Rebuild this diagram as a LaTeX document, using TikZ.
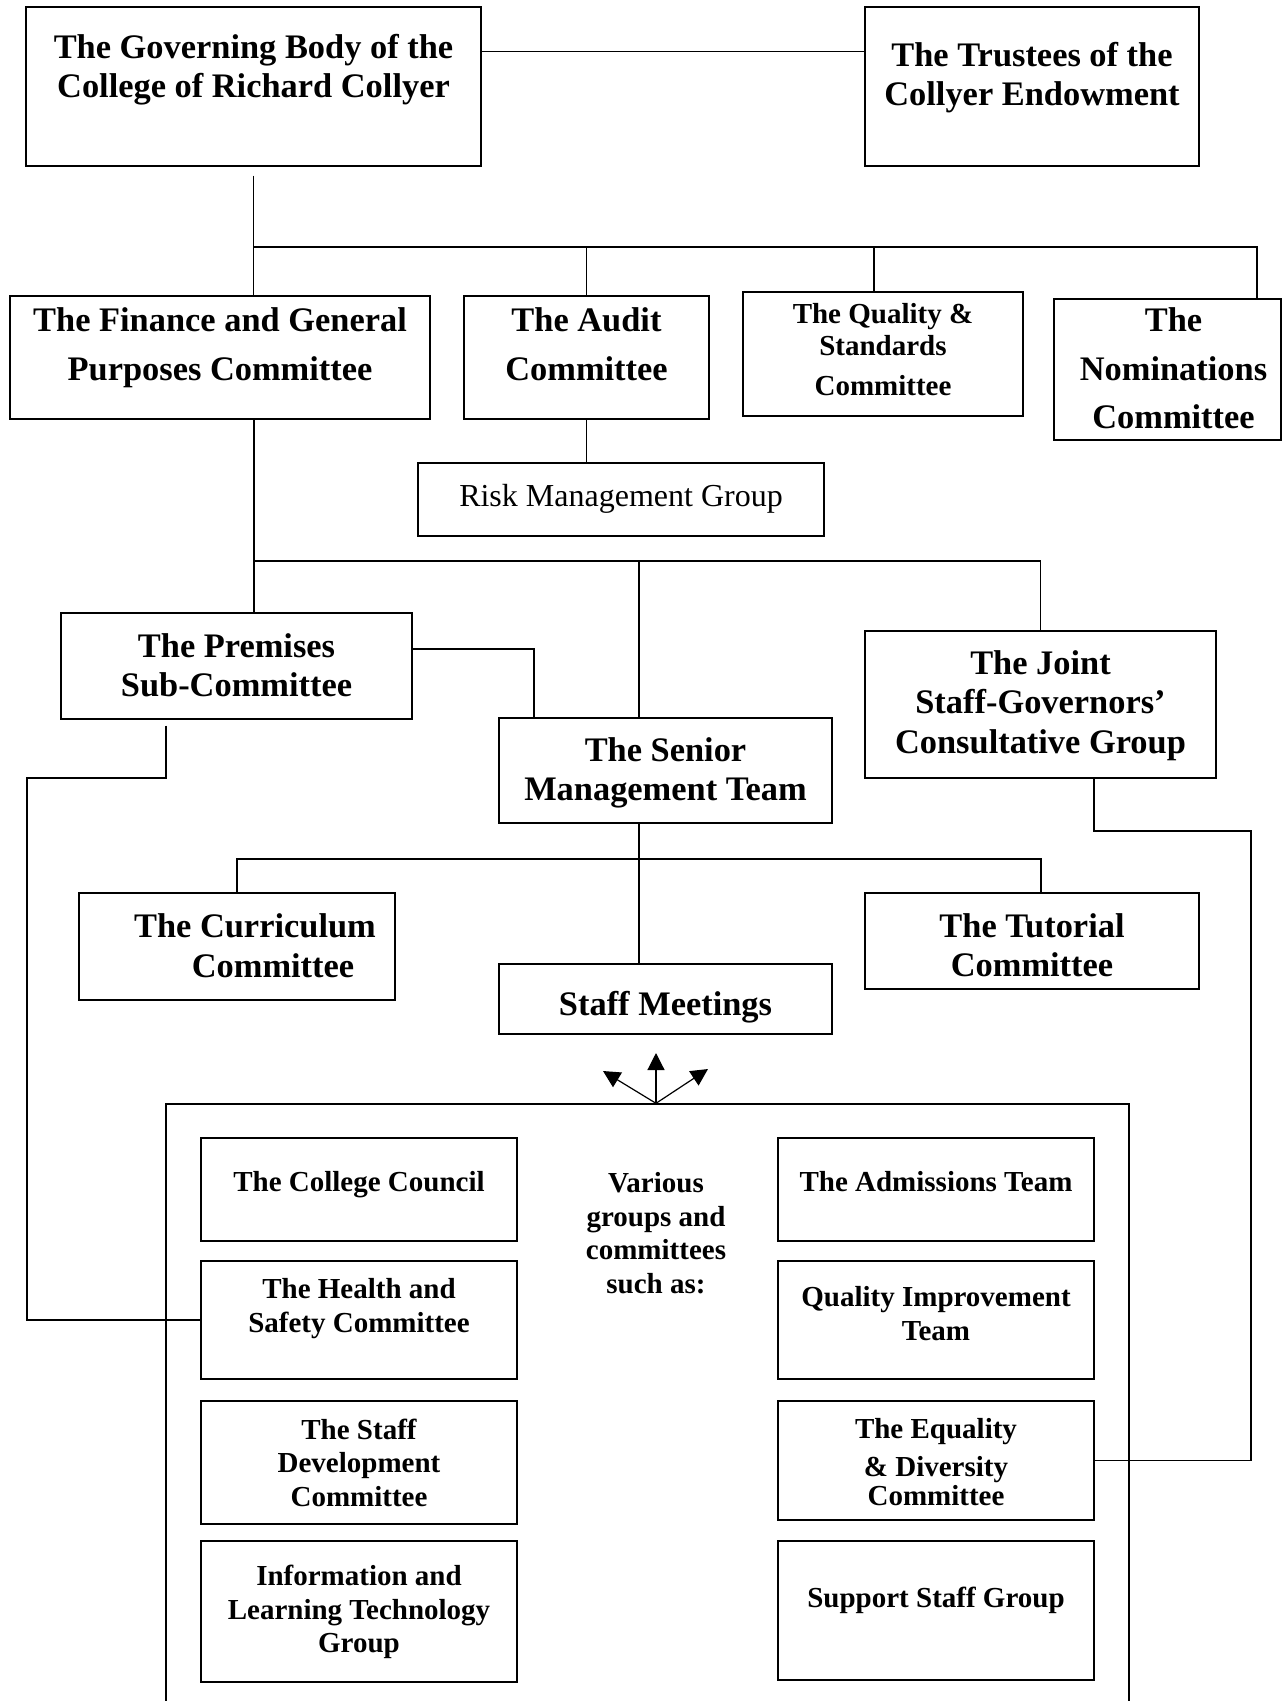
\documentclass[tikz,border=0pt]{standalone}
\usepackage{fontspec}
\setmainfont{Liberation Serif}
\usetikzlibrary{arrows.meta}

% text block lifted inside a box of fixed size
\newcommand{\boxlabel}[2]{\raisebox{\dimexpr#1-2.5pt\relax}[0pt][0pt]{\begin{tabular}{@{}c@{}}#2\end{tabular}}}

\tikzset{
  unit/.style={draw, line width=1.4pt, inner sep=0pt,
               font=\bfseries\fontsize{34.4}{39.6}\selectfont},
  bigrow/.style={font=\bfseries\fontsize{34.4}{48.8}\selectfont},
  smalltext/.style={font=\bfseries\fontsize{29}{33.6}\selectfont},
  boxsize/.style 2 args={minimum width=#1pt, minimum height=#2pt},
  link/.style={line width=1.2pt},
  fanarrow/.style={line width=1.2pt, -{Triangle[length=17pt,width=17pt]}}
}

\begin{document}
\begin{tikzpicture}[x=1pt,y=-1pt]
  \useasboundingbox (0,0) rectangle (1283,1701);
  \fill[white] (0,0) rectangle (1283,1701);
  \clip (0,0) rectangle (1283,1701);

  % governing body and trustees
  \node[unit, boxsize={455}{159}] (gov) at (253.5,86.5)
    {\boxlabel{12.9pt}{The Governing Body of the\\College of Richard Collyer}};
  \node[unit, boxsize={334}{159}] (trustees) at (1032,86.5)
    {\boxlabel{4.9pt}{The Trustees of the\\Collyer Endowment}};

  % committees of the governors
  \node[unit, bigrow, boxsize={420}{123}] (finance) at (220,357.5)
    {\boxlabel{7.9pt}{The Finance and General\\Purposes Committee}};
  \node[unit, bigrow, boxsize={245}{123}] (audit) at (586.5,357.5)
    {\boxlabel{7.9pt}{The Audit\\Committee}};
  \node[unit, smalltext, boxsize={280}{124}] (quality) at (883,354)
    {\boxlabel{-2.2pt}{The Quality \&\\[-2pt]Standards\\[6.4pt]Committee}};
  \node[unit, bigrow, boxsize={227}{141}] (nom) at (1167.5,369.5)
    {\hspace*{12pt}\boxlabel{-4.6pt}{The\\Nominations\\Committee}};
  \node[unit, font=\fontsize{32}{37}\selectfont, boxsize={406}{73}] (risk) at (621,499.5)
    {\boxlabel{-3pt}{Risk Management Group}};

  \node[unit, boxsize={351}{106}] (premises) at (236.5,666)
    {\boxlabel{-6.6pt}{The Premises\\Sub-Committee}};
  \node[unit, boxsize={333}{105}] (smt) at (665.5,770.5)
    {\boxlabel{-6.1pt}{The Senior\\Management Team}};
  \node[unit, boxsize={351}{147}] (joint) at (1040.5,704.5)
    {\boxlabel{-5.1pt}{The Joint\\Staff-Governors'\\Consultative Group}};

  \node[unit, boxsize={316}{107}] (curr) at (237,946.5)
    {\hspace*{36pt}\boxlabel{-6.6pt}{The Curriculum\\\hspace*{36pt}Committee}};
  \node[unit, boxsize={334}{96}] (tut) at (1032,941)
    {\boxlabel{-11.6pt}{The Tutorial\\Committee}};
  \node[unit, boxsize={333}{70}] (staff) at (665.5,999)
    {\boxlabel{-12.6pt}{Staff Meetings}};

  % groups and committees
  \node[unit, boxsize={963}{626}] (groups) at (647.5,1417) {};
  \node[smalltext, inner sep=0pt] (various) at (656,1240)
    {\boxlabel{0pt}{Various\\groups and\\committees\\such as:}};

  \node[unit, smalltext, boxsize={316}{103}] (council) at (359,1189.5)
    {\boxlabel{1.2pt}{The College Council}};
  \node[unit, smalltext, boxsize={316}{118}] (health) at (359,1320)
    {\boxlabel{7.7pt}{The Health and\\Safety Committee}};
  \node[unit, smalltext, boxsize={316}{123}] (sdev) at (359,1462.5)
    {\boxlabel{-7.2pt}{The Staff\\Development\\Committee}};
  \node[unit, smalltext, boxsize={316}{141}] (ilt) at (359,1611.5)
    {\boxlabel{-4.7pt}{Information and\\Learning Technology\\Group}};

  \node[unit, smalltext, boxsize={316}{103}] (adm) at (936,1189.5)
    {\boxlabel{1.2pt}{The Admissions Team}};
  \node[unit, smalltext, boxsize={316}{118}] (qit) at (936,1320)
    {\boxlabel{-0.2pt}{Quality Improvement\\Team}};
  \node[unit, smalltext, boxsize={316}{119}] (eq) at (936,1460.5)
    {\boxlabel{-8.7pt}{The Equality\\[4.4pt]\& Diversity\\[-4.1pt]Committee}};
  \node[unit, smalltext, boxsize={316}{139}] (support) at (936,1610.5)
    {\boxlabel{5.7pt}{Support Staff Group}};

  % bends and bus ends
  \coordinate (busA) at (1257,247);
  \coordinate (busB) at (1040.5,561);
  \coordinate (busC) at (1041,859);
  \coordinate (lbend) at (27,778);
  \coordinate (rbend) at (1251,831);
  \coordinate (tipL) at (603,1071);
  \coordinate (tipU) at (656,1053);
  \coordinate (tipR) at (708,1069);

  % connectors
  \draw[link] ([yshift=-45pt]gov.north east) -- ([yshift=-45pt]trustees.north west);
  \draw[link] ([yshift=-9pt]gov.south) -- (gov.south |- finance.north);
  \draw[link] (gov.south |- busA) -- (busA) -- (busA |- nom.north);
  \draw[link] (audit.north |- busA) -- (audit.north);
  \draw[link] ([xshift=-9pt]quality.north |- busA) -- ([xshift=-9pt]quality.north);
  \draw[link] (audit.south) -- (audit.south |- risk.north);

  \draw[link] ([xshift=34pt]finance.south) -- ([xshift=34pt]finance.south |- premises.north);
  \draw[link] ([xshift=34pt]finance.south |- busB) -- (busB) -- (joint.north);
  \draw[link] ([xshift=-26.5pt]smt.north |- busB) -- ([xshift=-26.5pt]smt.north);
  \draw[link] ([yshift=17pt]premises.east) -| ([xshift=-131.5pt]smt.north);

  \draw[link] ([xshift=-70.5pt,yshift=-6pt]premises.south) |- (lbend) |- (health.west);
  \draw[link] ([xshift=53.5pt]joint.south) |- (rbend) |- (eq.east);

  \draw[link] ([xshift=-26.5pt]smt.south) -- ([xshift=-26.5pt]staff.north);
  \draw[link] (curr.north) |- (busC) -- (busC |- tut.north);

  \foreach \t in {tipL,tipU,tipR}
    \draw[fanarrow] ([xshift=8.5pt]groups.north) -- (\t);
\end{tikzpicture}
\end{document}
